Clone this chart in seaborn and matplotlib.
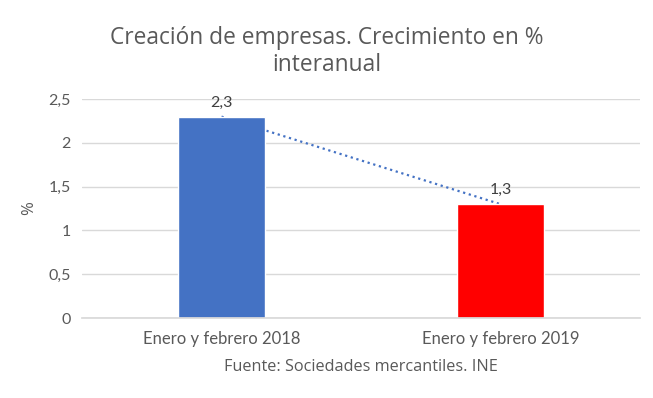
import pandas as pd
import seaborn as sns
import matplotlib.pyplot as plt

# Datos: crecimiento interanual de creación de empresas
periodos = ['Enero y febrero 2018', 'Enero y febrero 2019']
crecimiento = [2.3, 1.3]
colores = ['#4472C4', '#FF0000']
ticks_y = [0, 0.5, 1, 1.5, 2, 2.5]

df = pd.DataFrame({'periodo': periodos, 'valor': crecimiento})

sns.set_theme(style='white')
plt.rcParams['font.family'] = ['Lato', 'DejaVu Sans']

fig = plt.figure(figsize=(6.53, 3.98), dpi=100)
ax = fig.add_axes([0.1256, 0.201, 0.8544, 0.550])

# Línea de tendencia punteada (detrás de las barras)
ax.plot(range(len(periodos)), crecimiento, linestyle=':', color='#4472C4',
        linewidth=1.6, zorder=1)

sns.barplot(data=df, x='periodo', y='valor', hue='periodo', palette=colores,
            width=0.315, legend=False, saturation=1, ax=ax, zorder=2)

for i, v in enumerate(crecimiento):
    ax.text(i, v + 0.08, f'{v:.1f}'.replace('.', ','), ha='center', va='bottom',
            fontsize=11.5, color='#404040')

ax.set_ylim(0, 2.5)
ax.set_yticks(ticks_y)
ax.set_yticklabels([f'{t:g}'.replace('.', ',') for t in ticks_y])
ax.set_xlim(-0.5, 1.5)
ax.yaxis.grid(True, color='#D9D9D9', linewidth=1)
ax.set_axisbelow(True)
for s in ['top', 'right', 'left']:
    ax.spines[s].set_visible(False)
ax.spines['bottom'].set_color('#D9D9D9')
ax.tick_params(axis='both', length=0, labelcolor='#595959')
ax.tick_params(axis='x', pad=9, labelsize=12)
ax.tick_params(axis='y', pad=8, labelsize=11.5)
ax.set_xlabel('Fuente: Sociedades mercantiles. INE', fontsize=11.7,
              color='#595959', labelpad=9, family=['Open Sans', 'DejaVu Sans'])
ax.set_ylabel('%', fontsize=12, color='#595959', labelpad=8,
              family=['Open Sans', 'DejaVu Sans'])

fig.suptitle('Creación de empresas. Crecimiento en %\ninteranual', fontsize=16.4,
             color='#595959', y=0.935, linespacing=1.2,
             family=['Open Sans', 'DejaVu Sans'])

fig.savefig('out.png', dpi=100)
